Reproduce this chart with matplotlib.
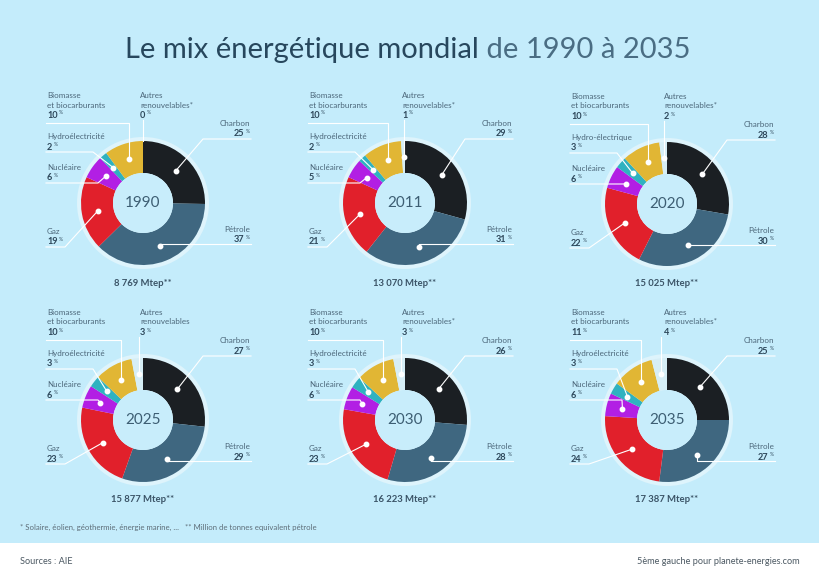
import matplotlib
matplotlib.use('Agg')
import matplotlib.pyplot as plt
from matplotlib.patches import Circle, Rectangle
import numpy as np

# ---------------- data ----------------
years = ['1990', '2011', '2020', '2025', '2030', '2035']
totals = ['8 769 Mtep**', '13 070 Mtep**', '15 025 Mtep**',
          '15 877 Mtep**', '16 223 Mtep**', '17 387 Mtep**']
charbon = [25, 29, 28, 27, 26, 25]
petrole = [37, 31, 30, 29, 28, 27]
gaz = [19, 21, 22, 23, 23, 24]
nucleaire = [6, 5, 6, 6, 6, 6]
hydro = [2, 2, 3, 3, 3, 3]
biomasse = [10, 10, 10, 10, 10, 11]
autres = [0, 1, 2, 3, 3, 4]
hydro_names = ['Hydroélectricité', 'Hydroélectricité', 'Hydro-électrique',
               'Hydroélectricité', 'Hydroélectricité', 'Hydroélectricité']
autres_names = ['renouvelables*', 'renouvelables*', 'renouvelables*',
                'renouvelables', 'renouvelables*', 'renouvelables*']

W, H = 820, 580
BG = '#c4ecfb'
colors = ['#1b1f23', '#3f6780', '#e1202b', '#b21fe4', '#2fb2c0', '#e1b634', '#d6eef6']
LABEL_C = '#4b6679'
NUM_C = '#2e485b'
FONT = 'Lato'

fig = plt.figure(figsize=(W / 100, H / 100), dpi=100)
fig.patch.set_facecolor(BG)
ax = fig.add_axes([0, 0, 1, 1])
ax.set_facecolor(BG)
ax.axis('off')


def Y(yp):
    return H - yp


# footer
ax.add_patch(Rectangle((0, 0), W, H - 543, fc='white', ec='none', zorder=0))

renderer = fig.canvas.get_renderer()


def width_of(t):
    bb = t.get_window_extent(renderer=renderer)
    return bb.width


# title
t1 = ax.text(0, Y(50), 'Le mix énergétique mondial', fontsize=21, family=FONT,
             color='#27475d', va='center', ha='left')
t2 = ax.text(0, Y(50), ' de 1990 à 2035', fontsize=21, family=FONT,
             fontweight='normal', color='#4a6d83', va='center', ha='left')
w1, w2 = width_of(t1), width_of(t2)
x0 = 408 - (w1 + w2) / 2
t1.set_x(x0)
t2.set_x(x0 + w1)

centers = [(143, 203), (405, 203), (667, 204), (143, 420), (405, 420), (667, 420)]
R_OUT, R_IN = 62, 30
R_DOT = 46


def value_text(x, yp, val, align):
    """number bold + small % sign"""
    if align == 'left':
        tn = ax.text(x, Y(yp), f'{val}', fontsize=6.6, family=FONT, fontweight='bold',
                     color=NUM_C, ha='left', va='top', zorder=6)
        wn = width_of(tn)
        ax.text(x + wn + 1.5, Y(yp - 0.5), '%', fontsize=3.6, family=FONT,
                color=NUM_C, ha='left', va='top', zorder=6)
    else:
        tp = ax.text(x, Y(yp - 0.5), '%', fontsize=3.6, family=FONT,
                     color=NUM_C, ha='right', va='top', zorder=6)
        wp = width_of(tp)
        ax.text(x - wp - 1.5, Y(yp), f'{val}', fontsize=6.6, family=FONT,
                fontweight='bold', color=NUM_C, ha='right', va='top', zorder=6)


def name_text(x, yp, s, align):
    ax.text(x, Y(yp), s, fontsize=5.8, family=FONT, color=LABEL_C,
            ha=align, va='top', zorder=6)


LINE = 9.5

for i, (cx, cy) in enumerate(centers):
    vals = [charbon[i], petrole[i], gaz[i], nucleaire[i], hydro[i], biomasse[i], autres[i]]
    # halo
    ax.add_patch(Circle((cx, Y(cy)), R_OUT + 4, fc='#def4fc', ec='none', zorder=1))
    ax.pie(vals, colors=colors, center=(cx, Y(cy)), radius=R_OUT, startangle=90,
           counterclock=False, wedgeprops=dict(width=R_OUT - R_IN, linewidth=0, zorder=2))
    ax.add_patch(Circle((cx, Y(cy)), R_IN, fc='#c8edfb', ec='none', zorder=3))
    ax.text(cx, Y(cy), years[i], fontsize=11, family=FONT, color='#3d5e73',
            ha='center', va='center', zorder=6)
    ax.text(cx, Y(cy + 80), totals[i], fontsize=6.8, family=FONT, fontweight='bold',
            color='#3b5467', ha='center', va='center', zorder=6)

    total = float(sum(vals))
    cum = np.cumsum([0] + vals[:-1])
    dots = []
    for v, c0 in zip(vals, cum):
        th = np.deg2rad(360.0 * (c0 + v / 2.0) / total)
        dots.append((cx + R_DOT * np.sin(th), cy - R_DOT * np.cos(th)))

    lx, rx = cx - 96, cx + 107
    lw = 0.8
    lc = 'white'

    def dot(p):
        ax.plot([p[0]], [Y(p[1])], 'o', ms=3.2, color='white', zorder=5)

    # Charbon (right, upper)
    d = dots[0]
    uy = cy - 64
    ax.plot([d[0], cx + 60, rx + 1], [Y(d[1]), Y(uy), Y(uy)], color=lc, lw=lw, zorder=4)
    dot(d)
    name_text(rx, cy - 83, 'Charbon', 'right')
    value_text(rx, cy - 83 + LINE, charbon[i], 'right')

    # Petrole (right, lower)
    d = dots[1]
    uy = cy + 41
    ax.plot([d[0], d[0], rx + 1], [Y(d[1]), Y(uy), Y(uy)], color=lc, lw=lw, zorder=4)
    dot(d)
    name_text(rx, cy + 23, 'Pétrole', 'right')
    value_text(rx, cy + 23 + LINE, petrole[i], 'right')

    # Gaz (left, lower)
    d = dots[2]
    uy = cy + 44
    ax.plot([d[0], cx - 78, lx - 1], [Y(d[1]), Y(uy), Y(uy)], color=lc, lw=lw, zorder=4)
    dot(d)
    name_text(lx, cy + 25, 'Gaz', 'left')
    value_text(lx, cy + 25 + LINE, gaz[i], 'left')

    # Nucleaire
    d = dots[3]
    uy = cy - 20
    ax.plot([d[0], cx - 45, lx - 1], [Y(d[1]), Y(uy), Y(uy)], color=lc, lw=lw, zorder=4)
    dot(d)
    name_text(lx, cy - 39, 'Nucléaire', 'left')
    value_text(lx, cy - 39 + LINE, nucleaire[i], 'left')

    # Hydro
    d = dots[4]
    uy = cy - 51
    ax.plot([d[0], cx - 50, lx - 1], [Y(d[1]), Y(uy), Y(uy)], color=lc, lw=lw, zorder=4)
    dot(d)
    name_text(lx, cy - 70, hydro_names[i], 'left')
    value_text(lx, cy - 70 + LINE, hydro[i], 'left')

    # Biomasse
    d = dots[5]
    uy = cy - 80
    ax.plot([d[0], d[0], lx - 1], [Y(d[1]), Y(uy), Y(uy)], color=lc, lw=lw, zorder=4)
    dot(d)
    name_text(lx, cy - 111, 'Biomasse', 'left')
    name_text(lx, cy - 111 + LINE, 'et biocarburants', 'left')
    value_text(lx, cy - 111 + 2 * LINE, biomasse[i], 'left')

    # Autres renouvelables
    d = dots[6]
    ax_x = cx - 3
    if autres[i] == 0:
        ax.plot([cx, cx], [Y(cy - R_OUT), Y(cy - 83)], color=lc, lw=lw, zorder=4)
    else:
        ax.plot([d[0], d[0]], [Y(d[1]), Y(cy - 83)], color=lc, lw=lw, zorder=4)
        dot(d)
    name_text(ax_x, cy - 111, 'Autres', 'left')
    name_text(ax_x, cy - 111 + LINE, autres_names[i], 'left')
    value_text(ax_x, cy - 111 + 2 * LINE, autres[i], 'left')

# footnotes
ax.text(20, Y(527), '* Solaire, éolien, géothermie, énergie marine, ...   ** Million de tonnes equivalent pétrole',
        fontsize=5.6, family=FONT, color='#5d6d78', ha='left', va='center')
ax.text(20, Y(561), 'Sources : AIE', fontsize=6.6, family=FONT, color='#4b5862',
        ha='left', va='center')
ax.text(800, Y(561), '5ème gauche pour planete-energies.com', fontsize=6.6, family=FONT,
        color='#4b5862', ha='right', va='center')

ax.set_xlim(0, W)
ax.set_ylim(0, H)
ax.set_aspect('auto')

fig.savefig('out.png', dpi=100, facecolor=BG)
